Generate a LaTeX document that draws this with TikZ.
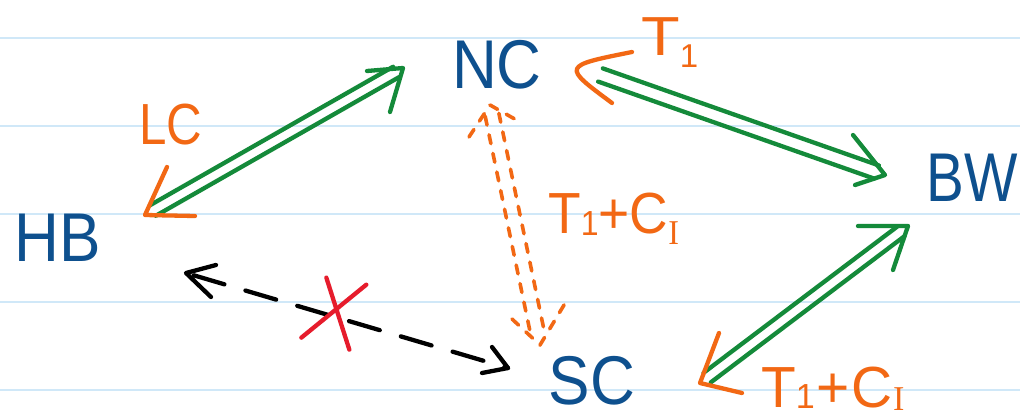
\documentclass[tikz,border=0pt]{standalone}
\usepackage{fontspec}
\setmainfont{Liberation Sans}
\newfontfamily\serifI{Liberation Serif}
\usetikzlibrary{calc}
\definecolor{inkblue}{RGB}{14,80,142}
\definecolor{inkorange}{RGB}{242,104,20}
\definecolor{inkgreen}{RGB}{20,138,58}
\definecolor{inkred}{RGB}{230,28,44}
\definecolor{rulecol}{RGB}{208,232,248}
\newcommand{\lsub}[2][0.05em]{\raisebox{-#1}{\scalebox{0.6}{#2}}}
\newcommand{\narrow}[2][0.9]{\scalebox{#1}[1]{#2}}
\begin{document}
\begin{tikzpicture}[x=1pt,y=-1pt,
  state/.style={inner sep=0pt, text=inkblue, font=\fontsize{69}{69}\selectfont},
  lab/.style={inner sep=0pt, text=inkorange, font=\fontsize{58}{58}\selectfont},
  pen/.style={line width=4.3pt, line cap=round, line join=round},
  gpen/.style={pen, draw=inkgreen},
  opem/.style={pen, draw=inkorange},
  odash/.style={pen, draw=inkorange, line width=3.6pt, dash pattern=on 9pt off 10pt},
  kdash/.style={pen, draw=black, dash pattern=on 32pt off 22pt},
  kpen/.style={pen, draw=black},
  rpen/.style={pen, draw=inkred},
  rule/.style={draw=rulecol, line width=2pt}]
\useasboundingbox (0,0) rectangle (1020,418);
\fill[white] (0,0) rectangle (1020,418);
\foreach \yy in {38,126,214,302,390} \draw[rule] (0,\yy) -- (1020,\yy);

% states
\node[state] (HB) at (58,238) {\narrow{HB}};
\node[state] (NC) at (497,65) {\narrow{NC}};
\node[state] (BW) at (972,178) {\narrow[0.82]{BW}};
\node[state] (SC) at (592,381) {\narrow{SC}};

% labels
\node[lab, anchor=center] (LC) at (171,125) {\narrow[0.85]{LC}};
\node[lab, anchor=base west, font=\fontsize{55}{55}\selectfont] (T1) at (641,55) {\narrow[1.15]{T}\lsub[0.22em]{1}};
\node[lab, anchor=base west] (TCm) at (548,233) {\narrow[0.92]{T\lsub{1}+C\lsub[0.2em]{\serifI I}}};
\node[lab, anchor=base west] (TCb) at (761,407) {\narrow[0.98]{T\lsub[0.02em]{1}\kern2pt+\kern2pt C\lsub[0.06em]{\serifI I}}};

% HB <-> NC
\coordinate (a1) at ($(HB)+(87,-23)$);
\coordinate (b1) at ($(NC)+(-94,3)$);
\draw[gpen, shorten <=9pt, shorten >=8pt] ($(a1)!6pt!90:(b1)$) -- ($(b1)!6pt!-90:(a1)$);
\draw[gpen, shorten <=9pt, shorten >=8pt] ($(a1)!6pt!-90:(b1)$) -- ($(b1)!6pt!90:(a1)$);
\draw[opem] ($(a1)+(22,-48)$) -- (a1) -- ($(a1)+(50,1)$);
\draw[gpen] ($(b1)+(-36,3)$) -- (b1) -- ($(b1)+(-13,44)$);

% NC <-> BW
\coordinate (a2) at ($(NC)+(95,7)$);
\coordinate (b2) at ($(BW)+(-87,-3)$);
\draw[gpen, shorten <=9pt, shorten >=9pt] ($(a2)!7pt!90:(b2)$) -- ($(b2)!7pt!-90:(a2)$);
\draw[gpen, shorten <=9pt, shorten >=9pt] ($(a2)!7pt!-90:(b2)$) -- ($(b2)!7pt!90:(a2)$);
\draw[opem] ($(a2)+(40,-20)$) .. controls ($(a2)+(-30,-6)$) .. ($(a2)+(20,31)$);
\draw[gpen] ($(b2)+(-32,-40)$) -- (b2) -- ($(b2)+(-30,10)$);

% BW <-> SC
\coordinate (a3) at ($(BW)+(-64,48)$);
\coordinate (b3) at ($(SC)+(108,2)$);
\draw[gpen, shorten <=9pt, shorten >=9pt] ($(a3)!6pt!90:(b3)$) -- ($(b3)!6pt!-90:(a3)$);
\draw[gpen, shorten <=9pt, shorten >=9pt] ($(a3)!6pt!-90:(b3)$) -- ($(b3)!6pt!90:(a3)$);
\draw[gpen] ($(a3)+(-50,0)$) -- (a3) -- ($(a3)+(-15,44)$);
\draw[opem] ($(b3)+(19,-50)$) -- (b3) -- ($(b3)+(42,10)$);

% NC <-> SC (dashed)
\coordinate (a4) at ($(NC)+(-7,40)$);
\coordinate (b4) at ($(SC)+(-52,-36)$);
\draw[odash, shorten <=10pt, shorten >=10pt] ($(a4)!7pt!90:(b4)$) -- ($(b4)!7pt!-90:(a4)$);
\draw[odash, shorten <=10pt, shorten >=10pt] ($(a4)!7pt!-90:(b4)$) -- ($(b4)!7pt!90:(a4)$);
\draw[odash] ($(a4)+(-21,32)$) -- (a4) -- ($(a4)+(30,17)$);
\draw[odash] ($(b4)+(-28,-26)$) -- (b4) -- ($(b4)+(27,-45)$);

% HB <-> SC (dashed, crossed out)
\coordinate (a5) at ($(HB)+(128,35)$);
\coordinate (b5) at ($(SC)+(-84,-13)$);
\draw[kdash, shorten <=8pt] (a5) -- (b5);
\draw[kpen] ($(a5)+(30,-8)$) -- (a5) -- ($(a5)+(25,24)$);
\draw[kpen] ($(b5)+(-16,-21)$) -- (b5) -- ($(b5)+(-26,5)$);
\coordinate (x5) at ($(a5)!0.47!(b5)$);
\draw[rpen] ($(x5)+(-11,-40)$) -- ($(x5)+(12,32)$);
\draw[rpen] ($(x5)+(29,-33)$) -- ($(x5)+(-36,20)$);
\end{tikzpicture}
\end{document}
